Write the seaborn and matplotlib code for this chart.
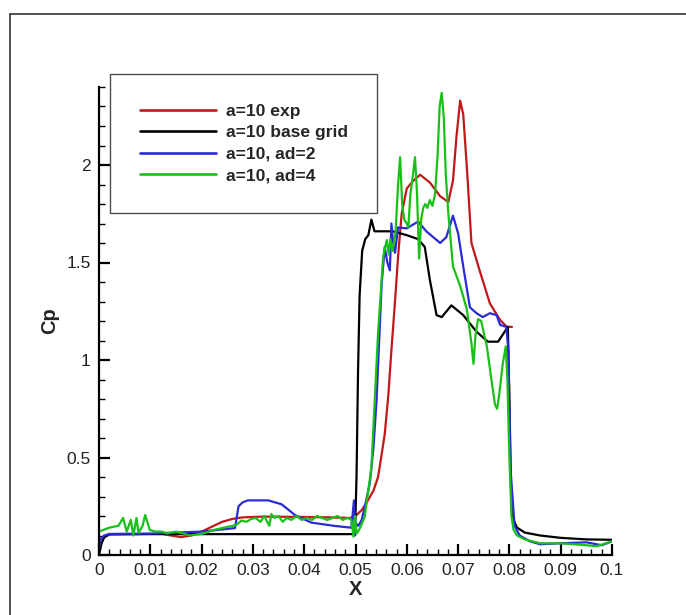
import numpy as np
import pandas as pd
import seaborn as sns
import matplotlib
matplotlib.use("Agg")
import matplotlib.pyplot as plt
from matplotlib.lines import Line2D
from matplotlib.ticker import MultipleLocator

# ---------------- data ----------------
labels = ["a=10 exp", "a=10 base grid", "a=10, ad=2", "a=10, ad=4"]
colors = ["#c01818", "#000000", "#2a2ad8", "#18c018"]

exp_x = [0.012, 0.014, 0.016, 0.018, 0.020, 0.022, 0.024, 0.026, 0.028, 0.032, 0.040,
         0.045, 0.049, 0.0502, 0.0512, 0.0522, 0.0535, 0.0544, 0.0550, 0.0557, 0.0564,
         0.0570, 0.0577, 0.0583, 0.0590, 0.0600, 0.0613, 0.0626, 0.0645, 0.0665, 0.0681,
         0.0690, 0.0697, 0.0704, 0.0710, 0.0718, 0.0726, 0.0743, 0.0762, 0.0782, 0.0795, 0.0805]
exp_y = [0.11, 0.10, 0.092, 0.10, 0.12, 0.145, 0.17, 0.185, 0.193, 0.197, 0.195,
         0.193, 0.19, 0.205, 0.23, 0.27, 0.33, 0.40, 0.50, 0.62, 0.82,
         1.05, 1.30, 1.53, 1.75, 1.88, 1.92, 1.95, 1.91, 1.84, 1.81,
         1.92, 2.15, 2.33, 2.26, 1.95, 1.60, 1.45, 1.29, 1.205, 1.17, 1.17]

base_x = [0.0, 0.0005, 0.001, 0.002, 0.010, 0.030, 0.0499, 0.0502, 0.0505, 0.0508,
          0.0513, 0.0519, 0.0525, 0.0531, 0.0537, 0.0548, 0.0573, 0.0600, 0.0622, 0.0635,
          0.0645, 0.0658, 0.0668, 0.0687, 0.0710, 0.0736, 0.0758, 0.0778, 0.0797, 0.0800,
          0.0803, 0.0808, 0.0815, 0.0830, 0.0860, 0.0900, 0.0950, 0.1000]
base_y = [0.0, 0.06, 0.09, 0.105, 0.107, 0.107, 0.107, 0.40, 0.95, 1.33,
          1.56, 1.62, 1.64, 1.72, 1.66, 1.66, 1.66, 1.64, 1.62, 1.58,
          1.41, 1.23, 1.22, 1.28, 1.23, 1.145, 1.094, 1.094, 1.17, 0.80,
          0.35, 0.18, 0.14, 0.115, 0.10, 0.088, 0.08, 0.078]

ad2_x = [0.0, 0.0003, 0.001, 0.002, 0.010, 0.020, 0.0265, 0.0272, 0.0280, 0.0290,
         0.0330, 0.0356, 0.0382, 0.0414, 0.0460, 0.0492, 0.0497, 0.0499, 0.0502, 0.0506,
         0.0512, 0.0520, 0.0528, 0.0535, 0.0541, 0.0551, 0.0557, 0.0562, 0.0567, 0.0570,
         0.0574, 0.0577, 0.0583, 0.0600, 0.0622, 0.0638, 0.0665, 0.0677, 0.0690, 0.0700,
         0.0710, 0.0723, 0.0736, 0.0748, 0.0762, 0.0775, 0.0782, 0.0794, 0.0798, 0.0802,
         0.0810, 0.0820, 0.0840, 0.0860, 0.0900, 0.0950, 0.0980, 0.1000]
ad2_y = [0.03, 0.08, 0.10, 0.108, 0.11, 0.12, 0.138, 0.25, 0.27, 0.28,
         0.28, 0.26, 0.205, 0.166, 0.149, 0.14, 0.28, 0.10, 0.16, 0.15,
         0.18, 0.27, 0.37, 0.55, 0.79, 1.39, 1.58, 1.50, 1.46, 1.70,
         1.58, 1.55, 1.68, 1.675, 1.71, 1.66, 1.60, 1.63, 1.74, 1.65,
         1.48, 1.27, 1.24, 1.22, 1.24, 1.23, 1.18, 1.17, 1.05, 0.45,
         0.15, 0.10, 0.07, 0.055, 0.06, 0.065, 0.05, 0.07]

ad4_x = [0.0, 0.002, 0.0038, 0.0047, 0.0054, 0.0062, 0.0067, 0.0073, 0.0077, 0.0085,
         0.0090, 0.0099, 0.0110, 0.0122, 0.0133, 0.0150, 0.0165, 0.0177, 0.0203, 0.0226,
         0.0259, 0.0268, 0.0278, 0.0287, 0.0297, 0.0305, 0.0315, 0.0322, 0.0332, 0.0336,
         0.0342, 0.0350, 0.0358, 0.0366, 0.0375, 0.0385, 0.0395, 0.0405, 0.0415, 0.0425,
         0.0435, 0.0445, 0.0455, 0.0465, 0.0475, 0.0485, 0.0492, 0.0496, 0.0499, 0.0502,
         0.0505, 0.0509, 0.0518, 0.0531, 0.0544, 0.0554, 0.0561, 0.0565, 0.0568, 0.0572,
         0.0578, 0.0583, 0.0587, 0.0591, 0.0595, 0.0600, 0.0603, 0.0607, 0.0612, 0.0616,
         0.0620, 0.0624, 0.0628, 0.0632, 0.0636, 0.0640, 0.0645, 0.0650, 0.0655, 0.0660,
         0.0664, 0.0668, 0.0672, 0.0676, 0.0681, 0.0690, 0.0704, 0.0717, 0.0726, 0.0730,
         0.0734, 0.0739, 0.0745, 0.0756, 0.0766, 0.0772, 0.0776, 0.0780, 0.0787, 0.0793,
         0.0796, 0.0800, 0.0804, 0.0808, 0.0815, 0.0830, 0.0860, 0.0900, 0.0950, 0.0970,
         0.1000]
ad4_y = [0.12, 0.14, 0.15, 0.19, 0.12, 0.18, 0.10, 0.19, 0.113, 0.15,
         0.205, 0.128, 0.12, 0.12, 0.11, 0.12, 0.11, 0.10, 0.11, 0.13,
         0.149, 0.155, 0.177, 0.17, 0.185, 0.19, 0.17, 0.20, 0.15, 0.21,
         0.19, 0.20, 0.17, 0.19, 0.18, 0.20, 0.18, 0.19, 0.18, 0.20,
         0.19, 0.18, 0.19, 0.20, 0.18, 0.19, 0.18, 0.094, 0.20, 0.11,
         0.12, 0.14, 0.196, 0.45, 1.14, 1.53, 1.615, 1.54, 1.62, 1.56,
         1.65, 1.90, 2.04, 1.80, 1.72, 1.70, 1.68, 1.85, 1.95, 2.04,
         1.85, 1.52, 1.72, 1.78, 1.80, 1.78, 1.82, 1.79, 1.85, 2.05,
         2.30, 2.37, 2.25, 1.95, 1.75, 1.48, 1.38, 1.26, 1.086, 0.98,
         1.13, 1.21, 1.20, 1.07, 0.88, 0.77, 0.75, 0.82, 0.98, 1.07,
         0.90, 0.50, 0.20, 0.13, 0.10, 0.08, 0.06, 0.06, 0.05, 0.045,
         0.07]

x_ticks = [0, 0.01, 0.02, 0.03, 0.04, 0.05, 0.06, 0.07, 0.08, 0.09, 0.1]
x_ticklabels = ["0", "0.01", "0.02", "0.03", "0.04", "0.05", "0.06", "0.07", "0.08", "0.09", "0.1"]
y_ticks = [0, 0.5, 1, 1.5, 2]
y_ticklabels = ["0", "0.5", "1", "1.5", "2"]

# ---------------- plot ----------------
sns.set_style("ticks")
plt.rcParams["font.family"] = ["Liberation Sans", "DejaVu Sans"]

W, H = 686, 615
fig = plt.figure(figsize=(W / 100, H / 100), dpi=100)
ax = fig.add_axes([99 / W, 1 - 555 / H, (612 - 99) / W, (555 - 87) / H])

series = [(exp_x, exp_y), (base_x, base_y), (ad2_x, ad2_y), (ad4_x, ad4_y)]
for (xs, ys), lab, col in zip(series, labels, colors):
    df = pd.DataFrame({"X": xs, "Cp": ys})
    sns.lineplot(data=df, x="X", y="Cp", ax=ax, color=col, linewidth=1.6,
                 label=lab, sort=False, estimator=None)

ax.set_xlim(0, 0.1)
ax.set_ylim(0, 2.4)
ax.set_xticks(x_ticks)
ax.set_xticklabels(x_ticklabels)
ax.set_yticks(y_ticks)
ax.set_yticklabels(y_ticklabels)
ax.xaxis.set_minor_locator(MultipleLocator(0.002))
ax.yaxis.set_minor_locator(MultipleLocator(0.1))

for s in ["top", "right"]:
    ax.spines[s].set_visible(False)
for s in ["left", "bottom"]:
    ax.spines[s].set_linewidth(1.6)
    ax.spines[s].set_color("black")

ax.tick_params(which="major", direction="in", length=8, width=1.6, labelsize=12.5,
               colors="black", pad=6)
ax.tick_params(which="minor", direction="in", length=4.5, width=1.0, colors="black")
ax.tick_params(axis="y", pad=6)
for t in ax.get_xticklabels() + ax.get_yticklabels():
    t.set_color("#222222")

ax.set_xlabel("X", fontsize=14.5, fontweight="bold", labelpad=1)
ax.set_ylabel("Cp", fontsize=14.5, fontweight="bold", labelpad=5)

leg = ax.legend(loc="upper left", bbox_to_anchor=(110 / W, 1 - 74 / H),
                bbox_transform=fig.transFigure, frameon=True, fancybox=False,
                fontsize=12.6, handlelength=4.35, handletextpad=0.55,
                borderpad=1.7, labelspacing=0.35, borderaxespad=0)
leg.get_frame().set_edgecolor("#222222")
leg.get_frame().set_linewidth(1.0)
for t in leg.get_texts():
    t.set_fontweight("bold")
for l in leg.get_lines():
    l.set_linewidth(1.9)

# outer frame (top and left edges)
fig.add_artist(Line2D([10 / W, 1.0], [1 - 14 / H, 1 - 14 / H], transform=fig.transFigure,
                      color="#333333", linewidth=1.2))
fig.add_artist(Line2D([10 / W, 10 / W], [1 - 14 / H, 0.0], transform=fig.transFigure,
                      color="#333333", linewidth=1.2))

fig.savefig("out.png", dpi=100, facecolor="white")
